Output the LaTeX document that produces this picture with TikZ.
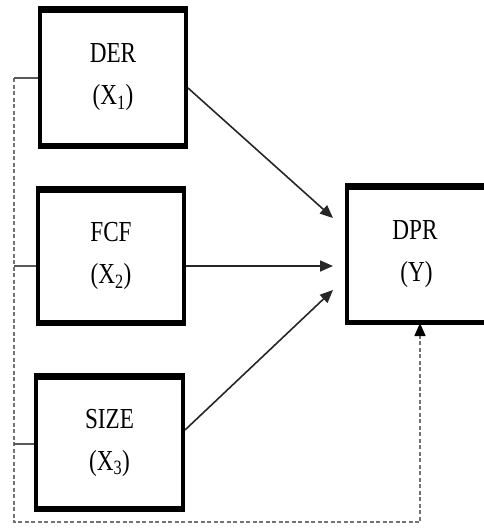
\documentclass[tikz,border=0pt]{standalone}
\usepackage{fontspec}
\setmainfont{Liberation Serif}
\usetikzlibrary{arrows.meta}
\newcommand{\twoline}[2]{\scalebox{0.8}[1]{#1}\\\scalebox{0.8}[1]{#2}}
\begin{document}
\begin{tikzpicture}[x=1pt,y=-1pt,
  varbox/.style={draw=black,line width=4pt,fill=white,minimum width=#1,align=center,
    font=\fontsize{29}{42}\selectfont,inner sep=0pt},
  edge/.style={line width=7pt,line cap=butt},
  arr/.style={line width=1.6pt,draw=black!85,-{Triangle[length=13pt,width=11pt]}},
  dsh/.style={line width=1.2pt,draw=black!55,dash pattern=on 4pt off 2.5pt},
  stub/.style={line width=1.5pt,draw=black!65}]
\useasboundingbox (0,0) rectangle (483,528);
\node[varbox=146pt,minimum height=135pt] (der) at (113,77.5) {\twoline{DER}{(X\textsubscript{1})}};
\node[varbox=146pt,minimum height=132pt] (fcf) at (111,256) {\twoline{FCF}{(X\textsubscript{2})}};
\node[varbox=147pt,minimum height=131pt] (size) at (109.5,442.5) {\twoline{SIZE}{(X\textsubscript{3})}};
\node[varbox=150pt,minimum height=135pt,anchor=west] (dpr) at (345,254) {\hspace*{-14pt}\twoline{DPR}{\hspace*{-14pt}(Y)}};
\foreach \n in {der,fcf,size,dpr}{
  \draw[edge] ([yshift=-1.5pt]\n.north west) -- ([yshift=-1.5pt]\n.north east);
  \draw[edge,line width=5pt] ([yshift=1pt]\n.south west) -- ([yshift=1pt]\n.south east);
}
\coordinate (tl) at (14,78);
\coordinate (bl) at (14,522);
\coordinate (br) at (420,522);
\coordinate (ab) at (420,338);
\coordinate (at) at (420,323);
\coordinate (t1) at (333,218);
\coordinate (t2) at (333,266);
\coordinate (t3) at (333,290);
\draw[arr] (der.east |- 0,88) -- (t1);
\draw[arr] (fcf.east |- 0,266) -- (t2);
\draw[arr] (size.east |- 0,430) -- (t3);
\draw[dsh] (tl) -- (bl) -- (br) -- (ab);
\draw[line width=1.2pt,draw=black!55,-{Triangle[length=13pt,width=11pt,color=black]}] (ab) -- (at);
\draw[stub] (tl) -- (der.west |- tl);
\draw[stub] (14,266) -- (fcf.west |- 0,266);
\draw[stub] (14,444) -- (size.west |- 0,444);
\end{tikzpicture}
\end{document}
